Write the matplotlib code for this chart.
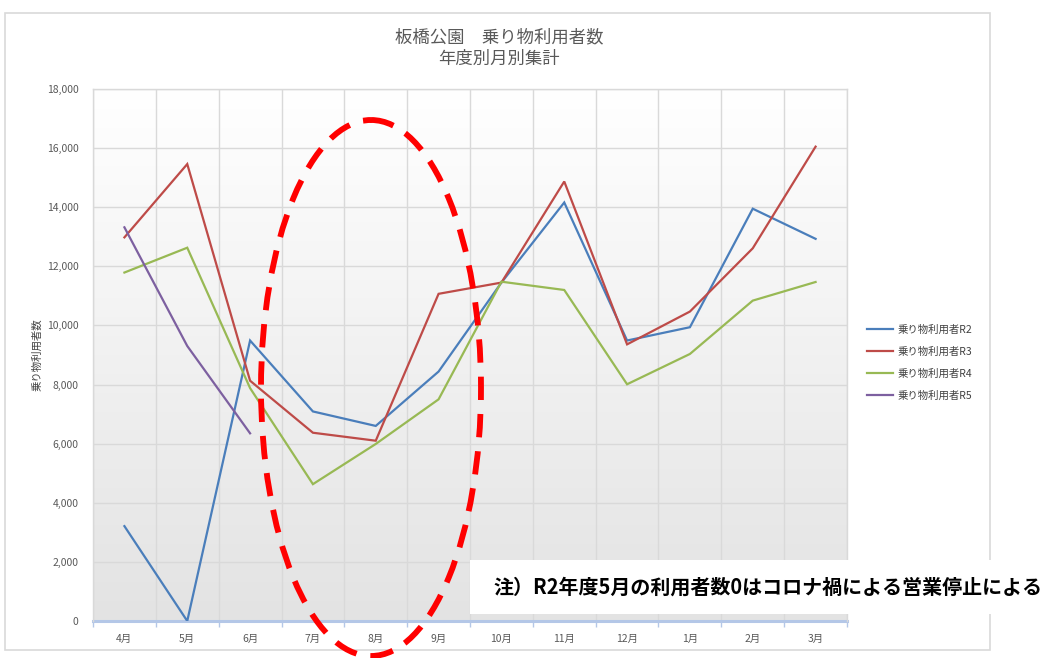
import matplotlib
matplotlib.use("Agg")
import matplotlib.pyplot as plt
import numpy as np
from matplotlib.patches import Ellipse, Rectangle
from matplotlib.colors import LinearSegmentedColormap

plt.rcParams['font.family'] = ['Noto Sans CJK JP', 'DejaVu Sans']

months = ["4月", "5月", "6月", "7月", "8月", "9月", "10月", "11月", "12月", "1月", "2月", "3月"]
r2 = [3210, 0, 9490, 7090, 6600, 8440, 11450, 14160, 9490, 9940, 13950, 12930]
r3 = [12980, 15460, 8130, 6370, 6100, 11070, 11450, 14870, 9360, 10470, 12610, 16050]
r4 = [11790, 12630, 7880, 4630, 5990, 7500, 11480, 11200, 8010, 9035, 10840, 11470]
r5 = [13320, 9305, 6350]
series_names = ["乗り物利用者R2", "乗り物利用者R3", "乗り物利用者R4", "乗り物利用者R5"]
colors = ["#4a7ebb", "#be4b48", "#98b954", "#7d60a0"]
title_text = "板橋公園　乗り物利用者数\n年度別月別集計"
ylabel_text = "乗り物利用者数"
note_text = "注）R2年度5月の利用者数0はコロナ禍による営業停止による"
yticks = list(range(0, 18001, 2000))

W, H = 1042, 658
fig = plt.figure(figsize=(W / 100, H / 100), dpi=100)
fig.patch.set_facecolor("white")

L, R, T, B = 93, 847, 89, 621
ax = fig.add_axes([L / W, 1 - B / H, (R - L) / W, (B - T) / H])
ax.set_facecolor("none")

x = np.arange(len(months))
ax.set_xlim(-0.5, len(months) - 0.5)
ax.set_ylim(0, 18000)

# gradient background: white at top, light gray at bottom
grad = np.linspace(1, 0, 256).reshape(-1, 1)
cmap = LinearSegmentedColormap.from_list("g", ["#e3e3e3", "#ffffff"])
ax.imshow(grad, aspect="auto", cmap=cmap, extent=[-0.5, len(months) - 0.5, 0, 18000],
          origin="upper", zorder=0, vmin=0, vmax=1)

for data, c, n in zip([r2, r3, r4, r5], colors, series_names):
    ax.plot(x[:len(data)], data, color=c, lw=1.6, label=n, zorder=3, solid_joinstyle="miter")

ax.set_yticks(yticks)
ax.set_yticklabels([f"{v:,}" for v in yticks])
ax.set_xticks(x)
ax.set_xticklabels(months)
ax.set_xticks(np.arange(-0.5, len(months), 1.0), minor=True)
ax.grid(True, axis="y", color="#d9d9d9", lw=1, zorder=1)
ax.grid(True, axis="x", which="minor", color="#d9d9d9", lw=1, zorder=1)
ax.grid(False, axis="x", which="major")
ax.set_axisbelow(True)
ax.tick_params(axis="both", which="major", length=0, labelsize=7.5, labelcolor="#595959")
ax.tick_params(axis="x", which="major", pad=9)
ax.tick_params(axis="y", which="major", pad=10.5)
ax.tick_params(axis="x", which="minor", length=4, color="#b4c7e7", width=1)
for s in ["left", "top", "right"]:
    ax.spines[s].set_color("#d9d9d9")
    ax.spines[s].set_linewidth(1)
ax.spines["bottom"].set_color("#b4c7e7")
ax.spines["bottom"].set_linewidth(2.2)
ax.spines["bottom"].set_zorder(2)

ax.set_ylabel(ylabel_text, fontsize=7.5, color="#404040", labelpad=3)

leg = fig.legend(loc="upper left", bbox_to_anchor=(858 / W, 1 - 315 / H), frameon=False,
                 fontsize=7.5, handlelength=2.5, labelspacing=1.15, handletextpad=0.35)
for t in leg.get_texts():
    t.set_color("#404040")

fig.text(499 / W, 1 - 48 / H, title_text, ha="center", va="center", fontsize=12.5,
         color="#595959", linespacing=1.25)

# overlay for decorations
ov = fig.add_axes([0, 0, 1, 1], zorder=5)
ov.set_xlim(0, W)
ov.set_ylim(H, 0)
ov.axis("off")
ov.patch.set_alpha(0)
ov.add_patch(Rectangle((5, 13), 985, 637, fill=False, edgecolor="#d9d9d9", lw=1.2))
ov.add_patch(Ellipse((371, 388), 220, 536, fill=False, edgecolor="#ff0000", lw=4.2,
                     linestyle=(0, (4.0, 2.4)), capstyle="butt"))
ov.add_patch(Rectangle((470, 560), 572, 54, facecolor="white", edgecolor="none"))
ov.text(493, 587, note_text, ha="left", va="center", fontsize=14.4, fontweight="bold",
        color="black")

fig.savefig("out.png", dpi=100)
